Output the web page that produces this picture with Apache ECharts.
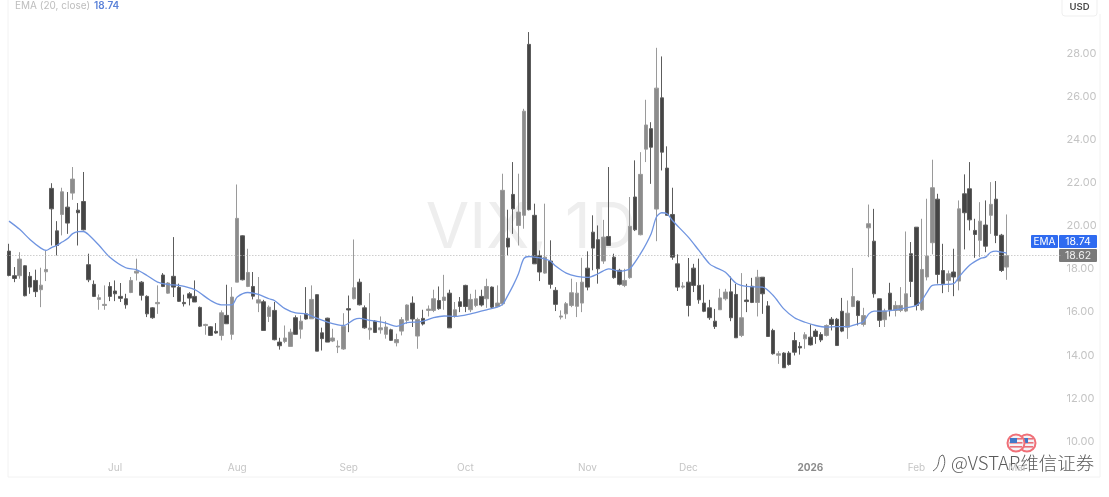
<!DOCTYPE html>
<html>
<head>
<meta charset="utf-8">
<title>VIX, 1D</title>
<style>
  html, body { margin: 0; padding: 0; background: #fff; }
  #main { width: 1109px; height: 497px; }
</style>
</head>
<body>
<div id="main"></div>
<script src="https://cdn.jsdelivr.net/npm/echarts@6/dist/echarts.min.js"></script>
<script>
// daily candles
const opens = [
  18.83,17.69,17.69,18.15,17.66,17.47,17.04,17.87,21.74,19.77,
  20.53,20.87,21.52,20.73,21.13,18.20,17.29,16.59,16.31,17.19,
  16.98,16.73,16.62,16.91,17.81,17.39,16.73,16.20,16.39,17.72,
  16.88,17.66,17.15,16.45,16.85,16.73,16.22,15.38,15.32,15.11,
  14.92,15.85,14.97,17.39,19.54,17.19,17.19,16.42,16.48,15.80,
  16.08,14.61,14.64,14.41,15.74,15.21,15.92,15.69,16.81,15.04,
  15.72,14.66,14.38,14.29,16.16,16.62,17.39,16.20,15.18,15.58,
  15.18,14.97,15.18,14.58,15.12,15.62,16.42,14.89,15.71,16.08,
  16.08,16.54,16.54,16.88,15.80,16.48,17.24,16.11,16.31,16.73,
  16.62,17.16,16.26,16.39,19.43,21.46,20.02,20.49,28.42,20.49,
  18.63,17.81,18.37,17.01,15.77,15.92,16.31,16.27,16.42,18.04,
  19.71,19.36,18.37,19.51,18.55,17.94,17.24,17.60,21.34,19.59,
  23.56,24.51,20.78,25.94,22.68,20.53,18.24,17.16,17.39,18.04,
  17.24,16.42,16.20,15.58,16.11,16.62,16.94,16.82,14.92,16.56,
  17.20,16.45,17.62,16.29,15.15,14.00,14.10,14.10,14.68,14.41,
  14.76,14.84,15.12,14.96,14.92,15.67,15.67,16.04,15.30,16.26,
  16.51,15.43,19.91,19.29,16.62,15.65,16.88,16.08,16.08,16.05,
  18.71,19.94,16.11,17.63,19.22,21.24,17.93,17.47,17.86,17.44,
  21.49,21.72,19.79,19.33,20.04,20.49,21.24,19.57,18.09
]
const closes = [
  17.70,17.56,18.46,16.76,17.16,16.95,17.25,17.98,20.79,19.09,
  21.58,20.13,22.17,20.61,19.82,17.50,16.73,16.67,16.36,16.73,
  16.85,16.64,16.34,17.47,17.90,16.78,15.92,15.74,16.45,17.19,
  17.35,17.16,16.50,16.39,16.65,16.47,15.35,15.43,14.92,15.03,
  15.97,15.46,16.70,20.35,17.50,17.84,16.74,16.57,15.15,16.23,
  14.72,14.44,14.80,15.07,14.97,15.58,15.68,16.59,14.19,14.77,
  14.61,14.80,14.42,15.34,16.10,17.13,16.34,15.27,15.26,15.06,
  15.27,15.31,14.69,14.73,15.65,16.33,15.68,15.66,15.45,16.14,
  16.62,16.16,16.70,15.27,16.11,16.26,16.26,16.59,16.62,16.33,
  17.19,16.23,16.42,21.65,19.02,20.79,20.64,25.32,20.75,18.24,
  17.86,18.55,17.29,16.36,15.82,16.39,16.90,16.88,17.39,17.16,
  18.97,18.01,19.48,19.09,17.60,17.29,17.47,19.98,19.82,22.39,
  24.68,23.65,26.39,23.42,20.49,18.55,17.16,17.21,16.31,17.24,
  16.57,16.04,15.74,15.33,16.66,16.93,15.74,14.81,15.74,16.49,
  16.45,17.62,16.85,14.87,14.07,14.07,13.42,13.57,14.14,14.34,
  14.95,14.48,14.87,14.71,15.38,15.43,14.45,15.12,15.95,16.72,
  15.84,15.84,20.10,16.85,15.62,16.05,16.11,16.31,16.31,16.85,
  17.42,16.31,17.98,18.60,21.77,17.75,17.32,17.78,17.63,20.79,
  20.61,20.28,19.60,20.22,19.06,21.00,19.56,17.93,18.62
]
const highs = [
  19.17,18.09,18.78,18.17,17.86,17.97,18.06,18.86,21.98,20.22,
  21.77,21.57,22.73,21.06,22.50,18.71,17.47,16.82,17.24,17.39,
  17.47,17.35,16.85,17.63,18.48,17.44,16.78,16.23,17.24,17.81,
  17.39,19.48,17.32,16.81,16.93,17.47,16.26,15.46,15.35,15.49,
  16.08,17.27,17.16,21.92,19.56,18.94,17.86,17.63,16.57,16.31,
  16.47,14.81,15.38,15.23,15.85,15.85,17.16,17.24,16.82,15.28,
  15.74,15.23,14.69,15.95,16.77,19.37,17.55,16.31,16.88,15.62,
  15.80,15.58,15.23,15.00,15.77,16.36,16.73,15.74,16.11,16.31,
  17.04,17.19,17.73,17.04,16.47,16.70,17.27,16.85,17.04,17.04,
  17.55,17.19,17.24,22.42,20.75,22.96,22.42,25.43,28.99,21.03,
  18.86,21.03,19.33,17.16,16.08,16.47,17.55,17.39,18.52,18.82,
  20.49,20.02,20.28,22.73,18.71,18.01,18.01,21.34,23.04,23.42,
  25.85,24.81,28.26,27.86,23.69,21.77,18.68,17.39,18.51,18.24,
  18.48,17.28,16.57,16.15,17.08,17.08,17.65,17.31,17.81,17.31,
  17.59,17.96,17.62,16.51,15.23,14.19,14.14,14.19,15.07,14.61,
  15.07,15.43,15.22,15.07,15.43,15.77,15.73,16.66,16.54,18.05,
  16.54,16.20,20.99,20.79,16.62,16.16,17.36,16.51,17.16,19.74,
  19.25,19.94,20.33,21.26,23.07,21.49,19.17,17.93,18.94,21.18,
  22.39,22.96,20.33,21.10,21.18,22.03,22.08,19.63,20.53
]
const lows = [
  17.66,17.39,17.55,16.73,16.85,16.70,16.23,17.44,19.09,18.63,
  19.56,19.63,21.21,19.09,19.79,17.39,16.70,16.11,16.11,16.51,
  16.51,16.47,16.16,16.88,17.47,16.54,15.77,15.69,15.92,17.16,
  16.85,16.70,16.47,16.26,16.31,16.47,15.31,14.95,14.89,15.00,
  14.69,15.46,14.72,17.39,17.47,17.16,16.59,16.00,15.15,15.54,
  14.69,14.26,14.56,14.41,14.97,14.77,15.65,15.69,14.19,14.22,
  14.61,14.61,14.10,14.25,15.07,16.59,16.31,15.23,14.72,15.03,
  15.00,14.77,14.66,14.41,14.92,15.46,15.31,14.30,15.38,15.80,
  16.00,16.11,16.11,15.27,15.74,16.00,16.00,16.00,16.23,16.26,
  16.20,16.16,16.23,16.31,18.63,19.63,19.09,19.87,20.72,18.24,
  17.44,17.78,17.09,16.05,15.66,15.69,16.23,15.77,16.00,17.01,
  17.94,17.32,18.24,19.09,17.55,17.24,17.16,17.55,19.76,19.56,
  22.96,21.95,19.29,22.57,20.49,18.43,16.98,17.09,15.80,16.93,
  16.39,16.00,15.64,15.22,16.11,16.54,15.58,14.81,14.84,16.00,
  16.42,15.80,15.92,14.87,14.03,13.60,13.42,13.52,13.99,14.03,
  14.30,14.45,14.53,14.61,14.87,15.15,14.45,15.07,14.76,16.23,
  15.38,15.33,18.55,16.67,15.31,15.31,15.80,15.80,16.00,16.00,
  16.70,16.08,16.05,17.47,18.68,17.32,16.88,16.93,16.74,17.01,
  18.91,19.79,18.52,18.55,18.78,19.63,19.20,17.86,17.50
]

// EMA line, read at the bars where it could be made out
const emaBars = [
  0,2,4,6,7,8,9,10,11,12,13,14,15,17,19,22,24,26,28,30,32,35,38,40,42,43,45,
  47,49,50,52,54,56,58,60,62,63,65,66,68,71,73,75,77,78,80,82,84,87,90,92,
  93,94,95,96,97,98,99,100,101,102,103,105,107,109,111,113,115,116,117,119,
  121,122,123,124,125,128,130,132,133,135,137,139,142,144,146,148,150,152,
  154,156,158,160,161,162,163,165,167,169,171,172,173,174,176,178,179,181,
  183,184,185,186,187,188
]
const emaValues = [
  20.22,19.84,19.36,18.97,18.86,18.99,19.09,19.25,19.40,19.64,19.73,19.74,19.59,
  19.09,18.55,18.06,17.97,17.70,17.39,17.28,17.24,17.04,16.54,16.34,16.34,16.70,16.91,
  16.82,16.62,16.54,16.16,15.96,15.92,15.72,15.54,15.41,15.38,15.65,15.71,15.62,15.49,
  15.34,15.51,15.54,15.58,15.74,15.82,15.80,15.92,16.11,16.23,
  16.36,16.78,17.24,17.78,18.48,18.58,18.55,18.52,18.46,18.37,18.14,17.81,17.66,17.61,
  17.78,18.01,17.90,17.93,18.01,18.71,
  19.64,20.41,20.61,20.56,20.25,19.48,18.86,18.24,18.09,17.85,17.34,17.19,17.16,16.77,
  16.15,15.74,15.53,15.38,
  15.30,15.33,15.33,15.46,15.55,15.92,16.05,16.05,16.11,16.20,16.31,16.54,16.93,17.24,
  17.28,17.32,17.63,18.17,
  18.48,18.55,18.78,18.83,18.78,18.74
]

const barCount = 199 // empty bars on the right, like the chart's margin
const monthBars = [20, 43, 64, 86, 109, 128, 151, 171, 190]
const monthNames = ['Jul', 'Aug', 'Sep', 'Oct', 'Nov', 'Dec', '2026', 'Feb', 'Mar']
const lastClose = 18.62
const lastEma = 18.74

const categories = []
for (let i = 0; i < barCount; i++) {
  const m = monthBars.indexOf(i)
  categories.push(m >= 0 ? monthNames[m] : 'd' + i)
}
const candles = opens.map((o, i) => [o, closes[i], lows[i], highs[i]])
const emaLine = emaBars.map((b, i) => [b, emaValues[i]])

function flag(cx, cy) {
  return {
    type: 'group',
    x: cx,
    y: cy,
    children: [
      { type: 'circle', shape: { r: 8.5 }, style: { fill: '#f3f3f6', stroke: '#f07078', lineWidth: 2 } },
      { type: 'rect', shape: { x: -6, y: -5, width: 12, height: 1.6 }, style: { fill: '#e8707a' } },
      { type: 'rect', shape: { x: -6.5, y: -1, width: 13, height: 1.6 }, style: { fill: '#e8707a' } },
      { type: 'rect', shape: { x: -6, y: 3, width: 12, height: 1.6 }, style: { fill: '#e8707a' } },
      { type: 'rect', shape: { x: -6, y: -5, width: 7, height: 5 }, style: { fill: '#3f78c8' } }
    ]
  }
}

const chart = echarts.init(document.getElementById('main'))
chart.setOption({
  animation: false,
  backgroundColor: '#fff',
  grid: { left: 6.35, top: 10.3, width: 1056.1, height: 474.3 },
  xAxis: {
    type: 'category',
    data: categories,
    boundaryGap: true,
    axisLine: { show: false },
    axisTick: { show: false },
    splitLine: { show: false },
    axisLabel: {
      inside: true,
      margin: 12,
      interval: (i) => monthBars.indexOf(i) >= 0,
      hideOverlap: false,
      color: '#c6c6c6',
      fontFamily: 'Inter',
      fontSize: 10,
      formatter: (v) => (v === '2026' ? '{y|2026}' : v),
      rich: { y: { color: '#8a8a8a', fontFamily: 'Inter', fontSize: 10, fontWeight: 'bold' } }
    }
  },
  yAxis: {
    type: 'value',
    position: 'right',
    min: 8,
    max: 30,
    interval: 2,
    axisLine: { show: false },
    axisTick: { show: false },
    splitLine: { show: false },
    axisLabel: {
      margin: 4,
      color: '#c4c4c4',
      fontFamily: 'Inter',
      fontSize: 11,
      formatter: (v) => (v === 8 || v === 30 ? '' : v.toFixed(2))
    }
  },
  series: [
    {
      name: 'VIX',
      type: 'candlestick',
      data: candles,
      barWidth: 4,
      z: 2,
      itemStyle: {
        color: '#8c8c8c',
        borderColor: '#9a9a9a',
        color0: '#454545',
        borderColor0: '#5c5c5c',
        borderWidth: 1
      },
      markLine: {
        silent: true,
        symbol: 'none',
        animation: false,
        label: { show: false },
        lineStyle: { color: '#b5b5b5', type: [1, 2], width: 1 },
        data: [{ yAxis: lastClose }]
      }
    },
    {
      name: 'EMA',
      type: 'line',
      data: emaLine,
      showSymbol: false,
      smooth: 0.3,
      z: 3,
      lineStyle: { color: '#6f94e0', width: 1.3 }
    }
  ],
  graphic: [
    // chart frame
    { type: 'line', z: -1, shape: { x1: 8, y1: 0, x2: 8, y2: 477 }, style: { stroke: '#f2f2f2' } },
    { type: 'line', z: -1, shape: { x1: 8, y1: 477, x2: 1100, y2: 477 }, style: { stroke: '#f2f2f2' } },
    { type: 'line', z: -1, shape: { x1: 1100, y1: 14, x2: 1100, y2: 477 }, style: { stroke: '#f2f2f2' } },
    // symbol watermark
    {
      type: 'text', z: -1, x: 531, y: 229,
      style: { text: 'VIX, 1D', fill: '#eeeeee', font: '63px Inter', textAlign: 'center', textVerticalAlign: 'middle' }
    },
    // indicator legend
    { type: 'text', x: 15, y: 6, style: { text: 'EMA (20, close)', fill: '#bdbdbd', font: '10px Inter', textVerticalAlign: 'middle' } },
    { type: 'text', x: 94, y: 6, style: { text: String(lastEma), fill: '#5b82d8', font: '600 10px Inter', textVerticalAlign: 'middle' } },
    // currency button
    { type: 'rect', shape: { x: 1062, y: -3, width: 35, height: 19, r: 3 }, style: { fill: '#fff', stroke: '#efefef' } },
    { type: 'text', x: 1079.5, y: 7, style: { text: 'USD', fill: '#4a4a4a', font: '600 9.5px Inter', textAlign: 'center', textVerticalAlign: 'middle' } },
    // price tags
    { type: 'rect', shape: { x: 1031, y: 235, width: 27, height: 13, r: 1 }, style: { fill: '#2f6bf0' } },
    { type: 'text', x: 1044.5, y: 241.5, style: { text: 'EMA', fill: '#fff', font: '10px Inter', textAlign: 'center', textVerticalAlign: 'middle' } },
    { type: 'rect', shape: { x: 1059, y: 235, width: 38, height: 13, r: 1 }, style: { fill: '#2f6bf0' } },
    { type: 'text', x: 1078, y: 241.5, style: { text: String(lastEma), fill: '#fff', font: '10.5px Inter', textAlign: 'center', textVerticalAlign: 'middle' } },
    { type: 'rect', shape: { x: 1059, y: 249, width: 38, height: 13, r: 1 }, style: { fill: '#7a7a7a' } },
    { type: 'text', x: 1078, y: 255.5, style: { text: String(lastClose), fill: '#f2f2f2', font: '10.5px Inter', textAlign: 'center', textVerticalAlign: 'middle' } },
    // market flags
    flag(1027, 443),
    flag(1016, 443),
    // repost mark
    {
      type: 'bezierCurve',
      shape: { x1: 943, y1: 455, cpx1: 936, cpy1: 456, cpx2: 942, cpy2: 466, x2: 933, y2: 471 },
      style: { fill: 'none', stroke: '#666', lineWidth: 1 }
    },
    {
      type: 'bezierCurve',
      shape: { x1: 943, y1: 455, cpx1: 946, cpy1: 460, cpx2: 945, cpy2: 467, x2: 941, y2: 472 },
      style: { fill: 'none', stroke: '#666', lineWidth: 1 }
    },
    {
      type: 'text', x: 951, y: 463,
      style: { text: '@VSTAR维信证券', fill: '#5a5a5a', font: '300 18.5px "Noto Sans CJK SC"', textVerticalAlign: 'middle' }
    }
  ]
})
</script>
</body>
</html>
